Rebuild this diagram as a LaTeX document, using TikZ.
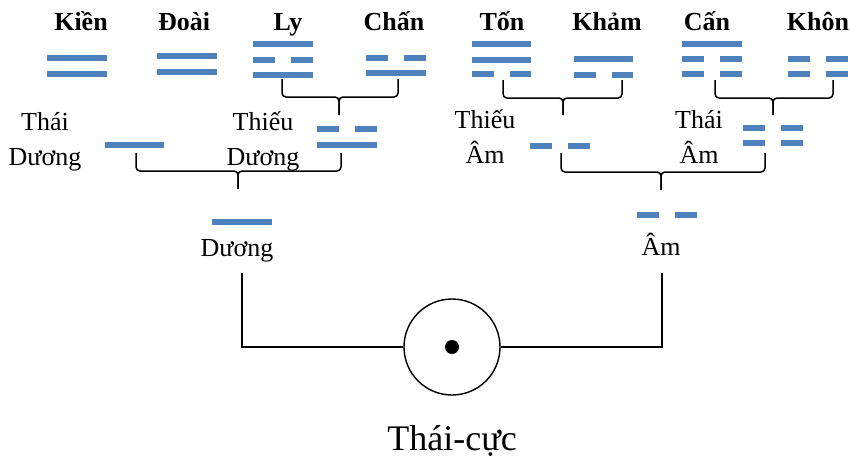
\documentclass[tikz,border=0pt]{standalone}
\usepackage{fontspec}
\setmainfont{Liberation Serif}
\usetikzlibrary{calc,positioning}
\definecolor{hao}{RGB}{79,129,189}

% one line of a figure: solid (yang) or broken (yin)
\newcommand{\yang}[3]{\draw[yangline] (#1,#3) -- (#2,#3);}
\newcommand{\yin}[3]{\draw[yinline] (#1,#3) -- (#2,#3);}
% bracket joining two figures: left x, middle x, right x, top, bar, foot
\newcommand{\grp}[6]{%
  \draw[bracket] (#1,#4) -- (#1,#5) -- (#2,#5) -- (#2,#6);
  \draw[bracket] (#3,#4) -- (#3,#5) -- (#2,#5) -- (#2,#6);}

\begin{document}
\begin{tikzpicture}[
      x=1pt, y=-1pt,
      yangline/.style={draw=hao, line width=5.5pt},
      yinline/.style={yangline, dash pattern=on 22pt off 16pt},
      bracket/.style={draw=black, line width=1.5pt, rounded corners=4pt},
      link/.style={draw=black, line width=1.1pt},
      quai/.style={font=\fontsize{26}{30}\selectfont\bfseries, anchor=base, inner sep=0pt},
      tuong/.style={font=\fontsize{26}{35}\selectfont, align=center, anchor=base, inner sep=0pt},
      nghi/.style={font=\fontsize{26}{30}\selectfont, anchor=base, inner sep=0pt},
      cuc/.style={font=\fontsize{36}{40}\selectfont, inner sep=0pt},
]
\useasboundingbox (0,0) rectangle (850,458);

% eight trigrams
\node[quai] (kien) at (81,30) {Kiền};
\node[quai] (doai) at (184,30) {Đoài};
\node[quai] (ly)   at (288,30) {Ly};
\node[quai] (chan) at (394,30) {Chấn};
\node[quai] (ton)  at (502,30) {Tốn};
\node[quai] (kham) at (607,30) {Khảm};
\node[quai] (can)  at (707,30) {Cấn};
\node[quai] (khon) at (818,30) {Khôn};

\yang{47}{107}{58}  \yang{47}{107}{74}
\yang{157}{217}{56} \yang{157}{217}{72}
\yang{253}{313}{44} \yin{253}{313}{60}  \yang{253}{313}{75}
\yin{366}{426}{58}  \yang{366}{426}{73}
\yang{472}{531}{44} \yang{472}{531}{60} \yin{472}{531}{74}
\yang{574}{633}{59} \yin{574}{633}{75}
\yang{682}{742}{44} \yin{682}{742}{59}  \yin{682}{742}{74}
\yin{788}{848}{59}  \yin{788}{848}{74}

\grp{282}{339}{398}{79}{97}{115}
\grp{503}{563}{622}{80}{98}{115}
\grp{715}{773}{833}{80}{98}{115}

% four images
\node[tuong] (thaiduong)  at (45,165)  {Thái\\Dương};
\node[tuong] (thieuduong) at (263,165) {Thiếu\\Dương};
\node[tuong] (thieuam)    at (485,163) {Thiếu\\Âm};
\node[tuong] (thaiam)     at (699,163) {Thái\\Âm};

\yang{105}{164}{145}
\yin{317}{377}{129} \yang{317}{377}{145}
\yin{530}{591}{146}
\yin{743}{803}{128} \yin{743}{803}{143}

\grp{136}{238}{341}{153}{171}{189}
\grp{561}{661}{765}{153}{172}{190}

% two modes
\node[nghi] (duong) at (237,256) {Dương};
\node[nghi] (am)    at (661,255) {Âm};
\yang{212}{272}{222}
\yin{637}{697}{215}

% supreme ultimate
\node[circle, draw, line width=1.4pt, minimum size=96pt, inner sep=0pt] (taicuc) at (452,347) {};
\fill (taicuc.center) circle (7pt);
\node[cuc, below=30pt of taicuc] (taicuc_label) {Thái-cực};

\coordinate (duong_foot) at (242,273);
\coordinate (am_foot) at (662,273);
\draw[link] (duong_foot) |- (taicuc.west);
\draw[link] (am_foot) |- (taicuc.east);

\end{tikzpicture}
\end{document}
